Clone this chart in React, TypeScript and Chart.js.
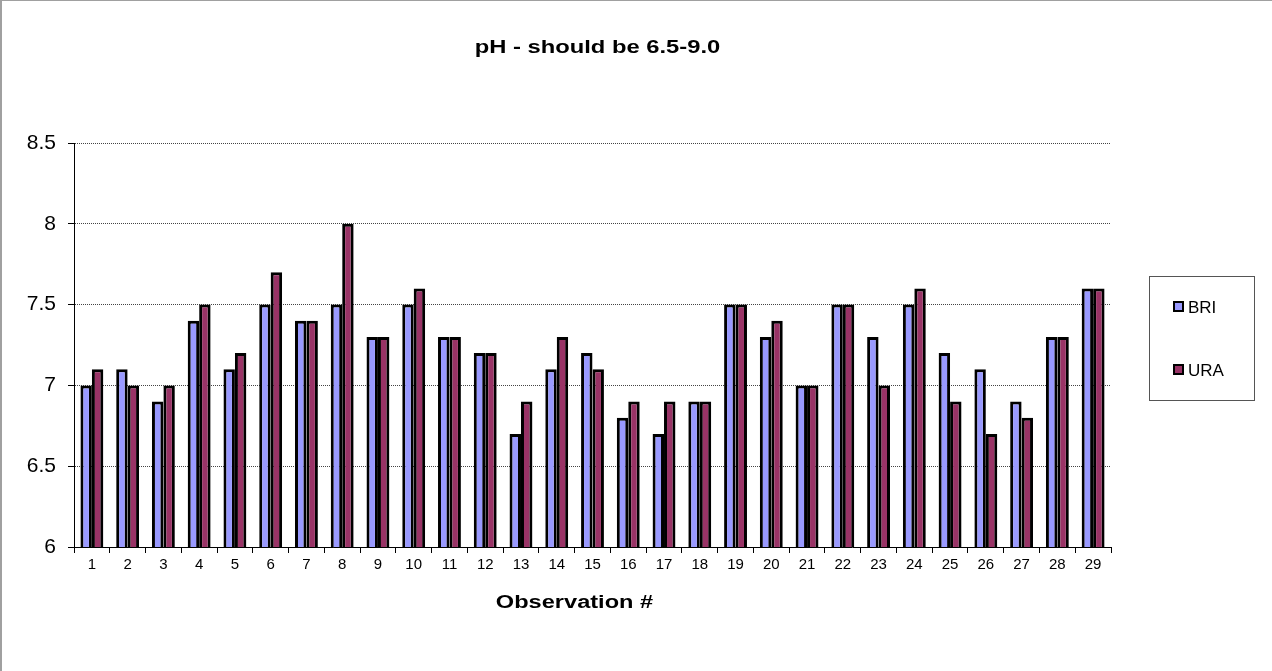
import { useEffect, useRef } from "react";
import { Chart, registerables } from "chart.js";

Chart.register(...registerables);

const observations = [
  "1", "2", "3", "4", "5", "6", "7", "8", "9", "10",
  "11", "12", "13", "14", "15", "16", "17", "18", "19", "20",
  "21", "22", "23", "24", "25", "26", "27", "28", "29",
];
const briValues = [
  7.0, 7.1, 6.9, 7.4, 7.1, 7.5, 7.4, 7.5, 7.3, 7.5,
  7.3, 7.2, 6.7, 7.1, 7.2, 6.8, 6.7, 6.9, 7.5, 7.3,
  7.0, 7.5, 7.3, 7.5, 7.2, 7.1, 6.9, 7.3, 7.6,
];
const uraValues = [
  7.1, 7.0, 7.0, 7.5, 7.2, 7.7, 7.4, 8.0, 7.3, 7.6,
  7.3, 7.2, 6.9, 7.3, 7.1, 6.9, 6.9, 6.9, 7.5, 7.4,
  7.0, 7.5, 7.0, 7.6, 6.9, 6.7, 6.8, 7.3, 7.6,
];
const seriesNames = ["BRI", "URA"];
const seriesColors = ["#9999FF", "#993366"];
const yTickValues = [6, 6.5, 7, 7.5, 8, 8.5];
const yTickLabels = ["6", "6.5", "7", "7.5", "8", "8.5"];
const chartTitle = "pH - should be 6.5-9.0";
const xAxisTitle = "Observation #";

const FONT = "'Liberation Sans', Arial, Helvetica, sans-serif";

export default function App() {
  const ref = useRef<HTMLCanvasElement>(null);

  useEffect(() => {
    const canvas = ref.current;
    if (!canvas) return;

    const decor = {
      id: "decor",
      beforeDraw(chart: any) {
        const { ctx } = chart;
        ctx.save();
        ctx.fillStyle = "#ffffff";
        ctx.fillRect(0, 0, chart.width, chart.height);
        ctx.strokeStyle = "#a0a0a0";
        ctx.lineWidth = 2;
        ctx.beginPath();
        ctx.moveTo(1, 0);
        ctx.lineTo(1, chart.height);
        ctx.stroke();
        ctx.lineWidth = 1;
        ctx.beginPath();
        ctx.moveTo(0, 0.5);
        ctx.lineTo(chart.width, 0.5);
        ctx.stroke();
        ctx.restore();
      },
      afterDraw(chart: any) {
        const { ctx } = chart;
        ctx.save();
        ctx.fillStyle = "#000000";
        // title
        ctx.font = `bold 18px ${FONT}`;
        ctx.textAlign = "center";
        ctx.textBaseline = "alphabetic";
        ctx.save();
        ctx.translate(597.5, 53);
        ctx.scale(1.32, 1);
        ctx.fillText(chartTitle, 0, 0);
        ctx.restore();
        // x axis title
        ctx.save();
        ctx.translate(574.5, 608);
        ctx.scale(1.31, 1);
        ctx.fillText(xAxisTitle, 0, 0);
        ctx.restore();
        // legend
        ctx.strokeStyle = "#555555";
        ctx.lineWidth = 1;
        ctx.strokeRect(1149.5, 276.5, 105, 124);
        const rows = [307, 370];
        ctx.font = `17px ${FONT}`;
        ctx.textAlign = "left";
        ctx.textBaseline = "middle";
        chart.data.datasets.forEach((ds: any, i: number) => {
          const y = rows[i];
          ctx.fillStyle = ds.backgroundColor;
          ctx.fillRect(1174, y - 5, 9, 9);
          ctx.strokeStyle = "#000000";
          ctx.lineWidth = 2;
          ctx.strokeRect(1174, y - 5, 9, 9);
          ctx.fillStyle = "#000000";
          ctx.fillText(ds.label, 1188, y + 1);
        });
        ctx.restore();
      },
    };

    const chart = new Chart(canvas, {
      type: "bar",
      data: {
        labels: observations,
        datasets: [
          {
            label: seriesNames[0],
            data: briValues,
            backgroundColor: seriesColors[0],
            borderColor: "#000000",
            borderWidth: 3,
            borderSkipped: false,
            categoryPercentage: 0.64,
            barPercentage: 1.0,
          },
          {
            label: seriesNames[1],
            data: uraValues,
            backgroundColor: seriesColors[1],
            borderColor: "#000000",
            borderWidth: 3,
            borderSkipped: false,
            categoryPercentage: 0.64,
            barPercentage: 1.0,
          },
        ],
      },
      options: {
        responsive: false,
        animation: false,
        devicePixelRatio: 1,
        layout: { padding: { left: 0, top: 143, right: 161, bottom: 0 } },
        plugins: {
          legend: { display: false },
          title: { display: false },
          tooltip: { enabled: false },
        },
        scales: {
          x: {
            offset: true,
            grid: {
              offset: true,
              drawOnChartArea: false,
              drawTicks: true,
              tickLength: 6,
              color: "#000000",
              tickColor: "#000000",
            },
            border: { display: true, color: "#000000", width: 1 },
            ticks: {
              color: "#000000",
              font: { family: FONT, size: 15 },
              padding: 3,
              maxRotation: 0,
              autoSkip: false,
            },
            afterFit(scale: any) {
              scale.height = 124;
            },
          },
          y: {
            min: 6,
            max: 8.5,
            afterBuildTicks(scale: any) {
              scale.ticks = yTickValues.map((v) => ({ value: v }));
            },
            grid: {
              color: "#444444",
              lineWidth: 1,
              tickLength: 6,
              tickColor: "#000000",
              tickBorderDash: [],
            },
            border: { display: true, color: "#000000", width: 1, dash: [1, 1] },
            ticks: {
              color: "#000000",
              font: { family: FONT, size: 21 },
              padding: 12,
              callback: (value: any) => {
                const i = yTickValues.indexOf(Number(value));
                return i >= 0 ? yTickLabels[i] : String(value);
              },
            },
            afterFit(scale: any) {
              scale.width = 74;
            },
          },
        },
      },
      plugins: [decor],
    });

    return () => chart.destroy();
  }, []);

  return (
    <div style={{ position: "absolute", left: 0, top: 0, width: 1272, height: 671, background: "#fff" }}>
      <canvas ref={ref} width={1272} height={671} style={{ display: "block", width: 1272, height: 671 }} />
    </div>
  );
}
